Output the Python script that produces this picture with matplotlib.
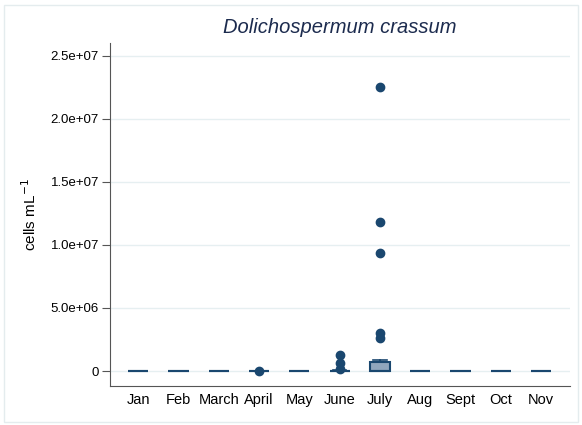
import matplotlib
matplotlib.use("Agg")
import matplotlib.pyplot as plt
from matplotlib.patches import Rectangle

months = ["Jan", "Feb", "March", "April", "May", "June", "July", "Aug", "Sept", "Oct", "Nov"]
q1 = [0, 0, 0, 0, 0, 0, 0, 0, 0, 0, 0]
med = [0, 0, 0, 0, 0, 0, 0, 0, 0, 0, 0]
q3 = [0, 0, 0, 0, 0, 40000, 700000, 0, 0, 0, 0]
whislo = [0, 0, 0, 0, 0, 0, 0, 0, 0, 0, 0]
whishi = [0, 0, 0, 0, 0, 80000, 870000, 0, 0, 0, 0]
outliers = [[], [], [], [40000], [], [1270000, 620000, 150000],
            [22500000, 11800000, 9400000, 3000000, 2600000], [], [], [], []]
yticks = [0, 5e6, 1e7, 1.5e7, 2e7, 2.5e7]
ytick_labels = ["0", "5.0e+06", "1.0e+07", "1.5e+07", "2.0e+07", "2.5e+07"]

plt.rcParams['font.family'] = ['Liberation Sans', 'DejaVu Sans']
navy = "#1a476f"

fig = plt.figure(figsize=(5.82, 4.25), dpi=100)
fig.patches.append(Rectangle((4/582, 3/425), 574/582, 417/425, transform=fig.transFigure,
                             fill=False, edgecolor="#e4ecee", linewidth=1.0))
ax = fig.add_axes([110/582, 1-386/425, (570-110)/582, (386-43)/425])

stats = []
for i, m in enumerate(months):
    stats.append(dict(label=m, q1=q1[i], med=med[i], q3=q3[i], whislo=whislo[i],
                      whishi=whishi[i], fliers=outliers[i]))
ax.bxp(stats, positions=range(1, len(months)+1), widths=0.5, patch_artist=True,
       boxprops=dict(facecolor="#90a6bd", edgecolor=navy, linewidth=1.5),
       medianprops=dict(color=navy, linewidth=1.5),
       whiskerprops=dict(color=navy, linewidth=1.2),
       capprops=dict(color=navy, linewidth=1.2), capwidths=0.33,
       flierprops=dict(marker="o", markerfacecolor=navy, markeredgecolor=navy, markersize=6))

ax.set_xlim(0.3, 11.72)
ax.set_ylim(-1.19e6, 2.603e7)
ax.set_yticks(yticks)
ax.set_yticklabels(ytick_labels)
ax.yaxis.grid(True, color="#e6eff1", linewidth=1)
ax.set_axisbelow(True)
for s in ["top", "right"]:
    ax.spines[s].set_visible(False)
ax.spines["left"].set_color("#555555")
ax.spines["bottom"].set_color("#555555")
ax.tick_params(axis="y", direction="out", length=6, color="#555555", labelsize=9.5, pad=2)
ax.tick_params(axis="x", length=0, labelsize=10.5, pad=5)
ax.set_ylabel("cells mL$^{-1}$", fontsize=11, labelpad=8)
ax.set_title("Dolichospermum crassum", fontstyle="italic", fontsize=14.5, color="#1c2b4e", pad=7)

fig.savefig("out.png", dpi=100, facecolor="white")
